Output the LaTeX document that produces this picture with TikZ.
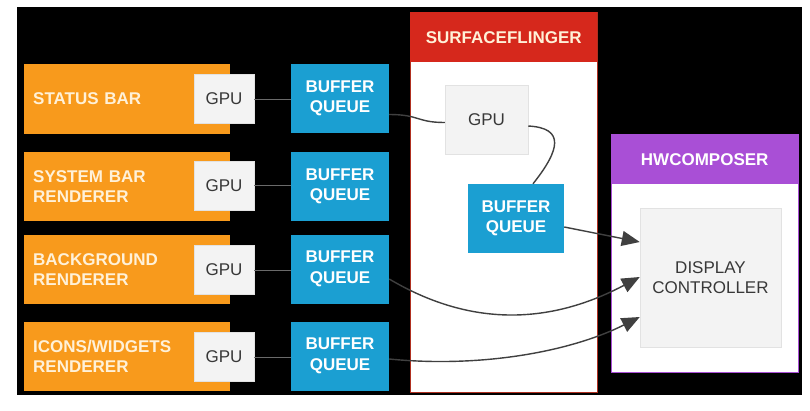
\documentclass[tikz,border=0pt]{standalone}
\usepackage{fontspec}
\setmainfont{Liberation Sans}
\usetikzlibrary{arrows.meta}
\definecolor{orangeC}{HTML}{F89A1C}
\definecolor{creamC}{HTML}{FFF1D8}
\definecolor{blueC}{HTML}{1B9FD2}
\definecolor{redC}{HTML}{D6281C}
\definecolor{purpleC}{HTML}{A94FD6}
\definecolor{sfBorder}{HTML}{B03020}
\definecolor{grayF}{HTML}{F3F3F3}
\definecolor{grayB}{HTML}{E2E2E2}
\definecolor{darkT}{HTML}{383838}
\definecolor{lineC}{HTML}{404040}
\definecolor{thinC}{HTML}{6A6A6A}
\begin{document}
\begin{tikzpicture}[x=1pt,y=-1pt,
  bigfont/.style={font=\fontsize{17}{20.5}\selectfont},
  appbox/.style={font=\bfseries\fontsize{17}{20.5}\selectfont, fill=orangeC, text=creamC, anchor=west,
    minimum height=69.5pt, text width=188pt, inner xsep=9pt, inner ysep=0pt, align=left},
  gpubox/.style={bigfont, fill=grayF, draw=grayB, line width=0.5pt, text=darkT,
    minimum width=60pt, minimum height=49pt, inner sep=0pt, align=center},
  bqbox/.style={font=\bfseries\fontsize{17}{20.5}\selectfont, fill=blueC, text=white,
    minimum width=98pt, minimum height=69pt, inner sep=0pt, align=center},
  frame/.style={fill=white, anchor=north west, inner sep=0pt, line width=0.8pt},
  header/.style={font=\bfseries\fontsize{17}{20.5}\selectfont, anchor=north west, inner sep=0pt,
    minimum width=187pt, minimum height=50pt},
  thinline/.style={draw=thinC, line width=1pt},
  flow/.style={draw=lineC, line width=1.4pt},
  flowarrow/.style={flow, -{Triangle[length=18pt,width=15pt]}}
]
\useasboundingbox (0,0) rectangle (810,410);
\fill[white] (0,0) rectangle (810,410);
\fill[black] (17,7) rectangle (802,395);

% application layers
\node[appbox] (a1) at (24,99) {STATUS BAR};
\node[appbox] (a2) at (24,186.5) {SYSTEM BAR\\RENDERER};
\node[appbox] (a3) at (24,269.5) {BACKGROUND\\RENDERER};
\node[appbox] (a4) at (24,356.5) {ICONS/WIDGETS\\RENDERER};

\node[gpubox] (g1) at (224,99) {GPU};
\node[gpubox] (g2) at (224,185.5) {GPU};
\node[gpubox] (g3) at (224,270) {GPU};
\node[gpubox] (g4) at (224,357) {GPU};

\node[bqbox] (q1) at (340,98.5) {BUFFER\\QUEUE};
\node[bqbox] (q2) at (340,186.5) {BUFFER\\QUEUE};
\node[bqbox] (q3) at (340,269) {BUFFER\\QUEUE};
\node[bqbox] (q4) at (340,356) {BUFFER\\QUEUE};

\draw[thinline] (g1) -- (q1.west |- g1);
\draw[thinline] (g2) -- (q2.west |- g2);
\draw[thinline] (g3) -- (q3.west |- g3);
\draw[thinline] (g4) -- (q4.west |- g4);

% SurfaceFlinger
\node[frame, draw=sfBorder, minimum width=187pt, minimum height=380pt] (sf) at (410,12) {};
\node[header, fill=redC, text=creamC] (sfh) at (410,12) {SURFACEFLINGER};
\node[gpubox, minimum width=83pt, minimum height=69pt] (sfgpu) at (486.5,119.5) {GPU};
\node[bqbox, minimum width=96pt] (sfbq) at (516,218.5) {BUFFER\\QUEUE};

% HWComposer
\node[frame, draw=purpleC, minimum width=187pt, minimum height=238pt] (hwc) at (611,134) {};
\node[header, fill=purpleC, text=white] (hwch) at (611,134) {HWCOMPOSER};
\node[gpubox, minimum width=141pt, minimum height=139pt] (dc) at (710.5,277.5) {DISPLAY\\CONTROLLER};

% connectors
\draw[flow] ([yshift=-16pt]q1.east) .. controls +(30,0) and +(-28,0) .. ([yshift=-3pt]sfgpu.west);
\draw[flow] ([yshift=-6.5pt]sfgpu.east) .. controls +(37,2) and +(27,-34) .. ([xshift=17pt]sfbq.north);
\draw[flowarrow] ([yshift=-8.5pt]sfbq.east) -- ([yshift=35.5pt]dc.west);
\draw[flowarrow] ([yshift=-10pt]q3.east) .. controls (450,315) and (530,335) .. ([yshift=0.5pt]dc.west);
\draw[flowarrow] ([yshift=-3pt]q4.east) .. controls (480,368) and (570,352) .. ([yshift=-39.5pt]dc.west);
\end{tikzpicture}
\end{document}
